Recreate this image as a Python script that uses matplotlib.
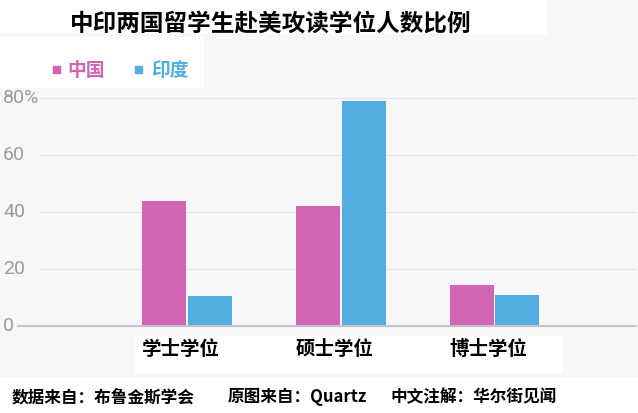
import numpy as np
import matplotlib.pyplot as plt
import matplotlib.transforms as mtransforms
from matplotlib.patches import Rectangle

plt.rcParams['font.family'] = ['Noto Sans CJK SC', 'DejaVu Sans']

degrees = ['学士学位', '硕士学位', '博士学位']
china = [44, 42, 14.3]
india = [10.5, 79, 11]
yticks = [0, 20, 40, 60, 80]
ytick_labels = ['0', '20', '40', '60', '80%']

pink = '#d264b6'
blue = '#52aee0'

W, H = 638, 413
fig = plt.figure(figsize=(6.38, 4.13), dpi=100, facecolor='#f7f7f9')


def box(x0, y0, w, h, **kw):
    fig.patches.append(Rectangle((x0 / W, 1 - (y0 + h) / H), w / W, h / H,
                                 transform=fig.transFigure, **kw))


# white boxes behind title, legend, x labels, footer
box(0, 0, 547, 34, facecolor='white', edgecolor='none', zorder=0)
box(0, 37, 204, 51, facecolor='white', edgecolor='none', zorder=0)
box(135, 336, 428, 37, facecolor='white', edgecolor='none', zorder=0)
box(0, 377, 638, 36, facecolor='white', edgecolor='none', zorder=0)

ax = fig.add_axes([18 / W, 1 - 326 / H, 618 / W, 228 / H])
ax.set_zorder(2)
ax.set_facecolor('none')
x = np.arange(len(degrees))
w = 0.286
ax.bar(x - w / 2 - 0.006, china, width=w, color=pink, zorder=3)
ax.bar(x + w / 2 + 0.006, india, width=w, color=blue, zorder=3)
ax.set_xlim(-1.1, 2.92)
ax.set_ylim(0, 80)
for s in ax.spines.values():
    s.set_visible(False)
ax.set_xticks([])
ax.set_yticks([])

gx = mtransforms.blended_transform_factory(ax.transAxes, ax.transData)
for v in yticks[1:]:
    ax.plot([0.036, 1], [v, v], transform=gx, color='#e4e4e8', lw=0.8, zorder=1, clip_on=False)
ax.plot([0, 1], [0, 0], transform=gx, color='#c4c4c8', lw=1.5, zorder=4, clip_on=False)

lx = mtransforms.blended_transform_factory(fig.transFigure, ax.transData)
for v, lab in zip(yticks, ytick_labels):
    ax.text(3 / W, v, lab, transform=lx, ha='left', va='center', fontsize=14,
            color='#9c9c9c', family=['Roboto', 'DejaVu Sans'])

for xi, lab in zip(x, degrees):
    ax.text(xi - 0.04, -8.2, lab, ha='center', va='center', fontsize=14, fontweight='bold',
            color='black', clip_on=False)

fig.text(70 / W, 1 - 24 / H, '中印两国留学生赴美攻读学位人数比例', fontsize=17,
         fontweight='heavy', color='black', va='center', ha='left')

box(53, 66, 7, 7, color=pink)
fig.text(67 / W, 1 - 70 / H, '中国', fontsize=13.5, color=pink, va='center', fontweight='bold')
box(135, 66, 7, 7, color=blue)
fig.text(151 / W, 1 - 70 / H, '印度', fontsize=13.5, color=blue, va='center', fontweight='bold')

footer = ['数据来自：布鲁金斯学会', '原图来自：Quartz', '中文注解：华尔街见闻']
for fx, t in zip([12, 228, 390], footer):
    fig.text(fx / W, 1 - 397 / H, t, fontsize=12, fontweight='bold', color='black',
             va='center', ha='left')

fig.savefig('out.png', dpi=100, facecolor=fig.get_facecolor())
